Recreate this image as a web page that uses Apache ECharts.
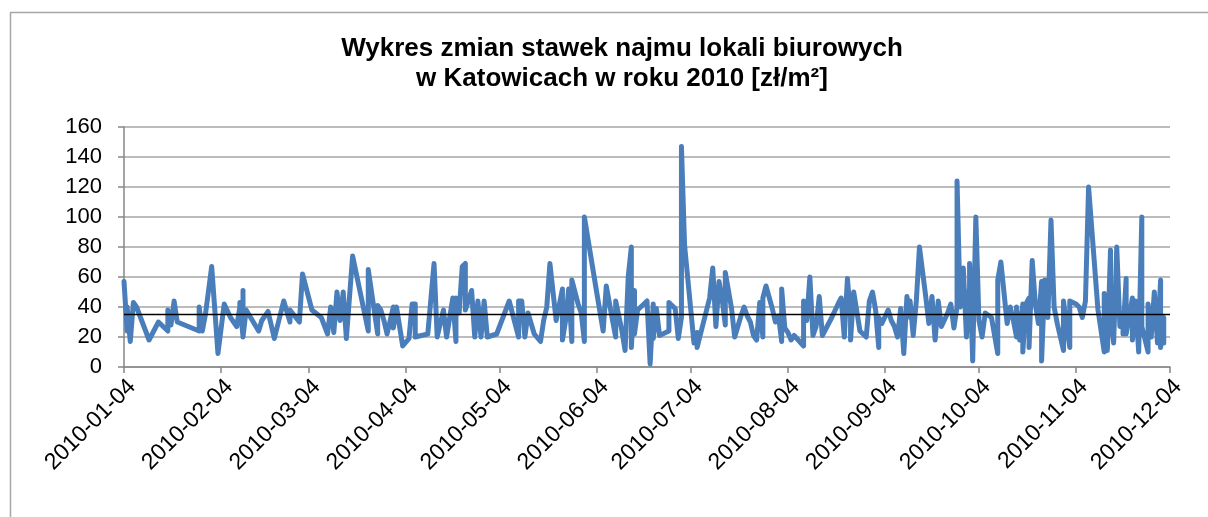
<!DOCTYPE html>
<html>
<head>
<meta charset="utf-8">
<script src="https://cdn.jsdelivr.net/npm/echarts@6/dist/echarts.min.js"></script>
<style>html,body{margin:0;padding:0;background:#fff}#c{width:1208px;height:517px}</style>
</head>
<body>
<div id="c"></div>
<script>
const titleLines = ['Wykres zmian stawek najmu lokali biurowych', 'w Katowicach w roku 2010 [zł/m²]'];
const xTickLabels = ['2010-01-04','2010-02-04','2010-03-04','2010-04-04','2010-05-04','2010-06-04','2010-07-04','2010-08-04','2010-09-04','2010-10-04','2010-11-04','2010-12-04'];
const yMin = 0, yMax = 160, yStep = 20;
const avgValue = 35;
const dates = [
'2010-01-04','2010-01-05','2010-01-05','2010-01-06','2010-01-07','2010-01-08','2010-01-12','2010-01-15','2010-01-18','2010-01-18',
'2010-01-19','2010-01-20','2010-01-21','2010-01-28','2010-01-28','2010-01-29','2010-01-30','2010-02-01','2010-02-02','2010-02-03',
'2010-02-05','2010-02-07','2010-02-09','2010-02-10','2010-02-10','2010-02-11','2010-02-11','2010-02-11','2010-02-12','2010-02-16',
'2010-02-17','2010-02-19','2010-02-21','2010-02-24','2010-02-26','2010-02-26','2010-03-01','2010-03-02','2010-03-05','2010-03-08',
'2010-03-10','2010-03-11','2010-03-12','2010-03-13','2010-03-14','2010-03-15','2010-03-16','2010-03-18','2010-03-23','2010-03-23',
'2010-03-26','2010-03-26','2010-03-27','2010-03-28','2010-03-29','2010-03-31','2010-03-31','2010-04-01','2010-04-03','2010-04-05',
'2010-04-06','2010-04-07','2010-04-07','2010-04-11','2010-04-13','2010-04-14','2010-04-16','2010-04-17','2010-04-19','2010-04-20',
'2010-04-20','2010-04-21','2010-04-22','2010-04-23','2010-04-23','2010-04-25','2010-04-26','2010-04-27','2010-04-28','2010-04-29',
'2010-04-30','2010-05-03','2010-05-07','2010-05-10','2010-05-10','2010-05-11','2010-05-12','2010-05-13','2010-05-15','2010-05-17',
'2010-05-18','2010-05-19','2010-05-20','2010-05-22','2010-05-24','2010-05-24','2010-05-25','2010-05-26','2010-05-27','2010-05-27',
'2010-05-29','2010-05-30','2010-05-31','2010-05-31','2010-06-04','2010-06-06','2010-06-07','2010-06-09','2010-06-10','2010-06-10',
'2010-06-12','2010-06-13','2010-06-14','2010-06-15','2010-06-15','2010-06-16','2010-06-16','2010-06-17','2010-06-19','2010-06-20',
'2010-06-21','2010-06-22','2010-06-22','2010-06-23','2010-06-24','2010-06-27','2010-06-27','2010-06-29','2010-06-30','2010-07-01',
'2010-07-01','2010-07-02','2010-07-05','2010-07-06','2010-07-06','2010-07-10','2010-07-11','2010-07-12','2010-07-13','2010-07-14',
'2010-07-15','2010-07-15','2010-07-17','2010-07-18','2010-07-20','2010-07-21','2010-07-22','2010-07-23','2010-07-24','2010-07-25',
'2010-07-26','2010-07-27','2010-07-27','2010-07-28','2010-07-30','2010-07-31','2010-08-01','2010-08-02','2010-08-02','2010-08-03',
'2010-08-04','2010-08-05','2010-08-06','2010-08-09','2010-08-09','2010-08-10','2010-08-11','2010-08-12','2010-08-13','2010-08-14',
'2010-08-15','2010-08-18','2010-08-20','2010-08-21','2010-08-22','2010-08-23','2010-08-24','2010-08-24','2010-08-25','2010-08-26',
'2010-08-27','2010-08-29','2010-08-30','2010-08-31','2010-09-01','2010-09-02','2010-09-02','2010-09-03','2010-09-05','2010-09-06',
'2010-09-07','2010-09-08','2010-09-09','2010-09-10','2010-09-11','2010-09-12','2010-09-12','2010-09-13','2010-09-14','2010-09-15',
'2010-09-17','2010-09-18','2010-09-19','2010-09-20','2010-09-21','2010-09-22','2010-09-24','2010-09-25','2010-09-26','2010-09-27',
'2010-09-27','2010-09-28','2010-09-29','2010-09-30','2010-10-01','2010-10-01','2010-10-02','2010-10-03','2010-10-04','2010-10-05',
'2010-10-06','2010-10-08','2010-10-10','2010-10-10','2010-10-11','2010-10-13','2010-10-14','2010-10-15','2010-10-16','2010-10-16',
'2010-10-17','2010-10-18','2010-10-18','2010-10-19','2010-10-20','2010-10-20','2010-10-21','2010-10-22','2010-10-23','2010-10-24',
'2010-10-24','2010-10-25','2010-10-26','2010-10-27','2010-10-28','2010-10-29','2010-10-31','2010-10-31','2010-11-01','2010-11-02',
'2010-11-02','2010-11-04','2010-11-05','2010-11-06','2010-11-07','2010-11-08','2010-11-11','2010-11-13','2010-11-13','2010-11-14',
'2010-11-15','2010-11-15','2010-11-16','2010-11-17','2010-11-18','2010-11-19','2010-11-19','2010-11-20','2010-11-20','2010-11-22',
'2010-11-22','2010-11-23','2010-11-24','2010-11-25','2010-11-25','2010-11-27','2010-11-27','2010-11-28','2010-11-29','2010-11-30',
'2010-12-01','2010-12-01','2010-12-02','2010-12-02'
];
const values = [
57,24,40,17,43,40,18,30,24,38,
28,44,30,24,40,24,35,67,38,9,
42,33,27,40,43,20,51,20,38,24,
31,37,19,44,30,38,30,62,38,33,
22,40,23,50,31,50,19,74,24,65,
22,41,38,31,22,40,26,40,14,19,
42,42,20,22,69,20,38,20,46,17,
46,36,67,69,38,51,20,44,20,44,
20,22,44,20,44,44,20,36,22,17,
31,40,69,31,52,18,31,52,17,58,
42,36,17,100,49,24,54,31,20,44,
24,11,60,80,13,51,22,38,42,44,
2,42,19,39,21,24,43,39,19,33,
147,81,16,23,13,46,66,27,57,45,
28,63,39,20,34,40,34,30,21,18,
43,20,46,54,39,30,34,17,52,26,
23,18,21,14,44,31,60,21,27,47,
21,33,42,46,20,59,33,18,50,37,
24,20,44,50,38,13,33,29,38,31,
27,20,39,9,47,33,44,21,44,80,
47,29,47,18,44,27,36,42,26,40,
124,40,66,20,53,69,4,100,31,20,
36,33,9,58,70,29,40,31,20,40,
18,42,10,42,46,13,71,42,29,57,
4,58,33,98,40,29,11,44,27,13,
44,42,40,33,44,120,38,10,49,11,
78,36,16,80,27,29,22,59,22,46,
18,44,10,100,27,10,42,20,50,16,
58,13,33,16
];

const toTs = s => echarts.time.parse(s).getTime();
const fmt = v => echarts.time.format(v, '{yyyy}-{MM}-{dd}', false);
const tickTs = xTickLabels.map(toTs);
const seriesData = dates.map((d, i) => [toTs(d), values[i]]);
const avgData = [[tickTs[0], avgValue], [tickTs[tickTs.length - 1], avgValue]];

const chart = echarts.init(document.getElementById('c'), null, {renderer: 'canvas'});
chart.setOption({
  animation: false,
  backgroundColor: '#ffffff',
  graphic: [{
    type: 'rect', left: 8, top: 10, silent: true,
    shape: {x: 0, y: 0, width: 1300, height: 600},
    style: {fill: 'none', stroke: '#a6a6a6', lineWidth: 1.5}
  }],
  title: {
    text: titleLines.join('\n'),
    left: 617, top: 29, textAlign: 'center',
    textStyle: {fontFamily: 'Liberation Sans', fontWeight: 'bold', fontSize: 26, lineHeight: 30, color: '#000'}
  },
  grid: {left: 124, right: 38, top: 127, bottom: 150, containLabel: false},
  xAxis: {
    type: 'value',
    min: tickTs[0], max: tickTs[tickTs.length - 1],
    axisLine: {show: true, lineStyle: {color: '#868686', width: 1.5}},
    axisTick: {show: true, customValues: tickTs, length: 6, lineStyle: {color: '#868686', width: 1.5}},
    axisLabel: {customValues: tickTs, formatter: fmt, rotate: 45, margin: 8, align: 'right', verticalAlign: 'top', fontFamily: 'Liberation Sans', fontSize: 23, color: '#000'},
    splitLine: {show: false}
  },
  yAxis: {
    type: 'value', min: yMin, max: yMax, interval: yStep,
    axisLine: {show: true, lineStyle: {color: '#868686', width: 1.5}},
    axisTick: {show: true, inside: false, length: 6, lineStyle: {color: '#868686', width: 1.5}},
    axisLabel: {margin: 22, fontFamily: 'Liberation Sans', fontSize: 22, color: '#000'},
    splitLine: {show: true, lineStyle: {color: '#a6a6a6', width: 1.5}}
  },
  series: [{
    type: 'line', data: seriesData, showSymbol: false, symbol: 'none',
    lineStyle: {color: '#4a7ebb', width: 5, join: 'round', cap: 'round'},
    z: 2
  }, {
    type: 'line', data: avgData, showSymbol: false, symbol: 'none',
    lineStyle: {color: '#000000', width: 1.5}, z: 3
  }]
});
</script>
</body>
</html>
